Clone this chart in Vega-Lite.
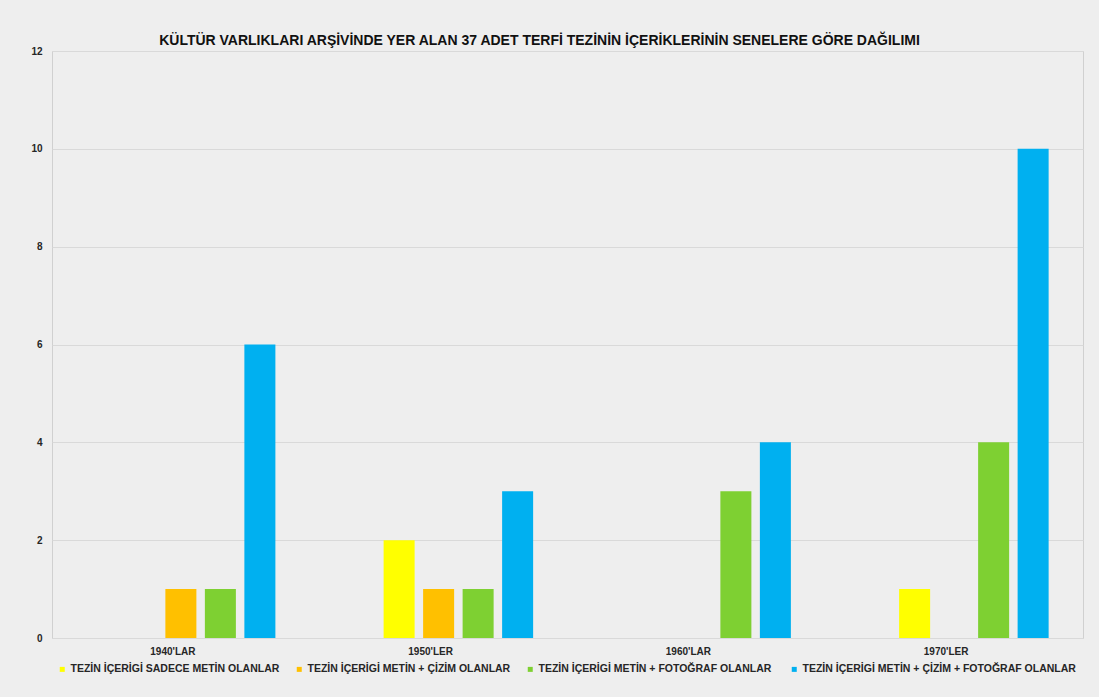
{
  "$schema": "https://vega.github.io/schema/vega-lite/v6.json",
  "autosize": "none",
  "width": 1031,
  "height": 587,
  "padding": {"left": 52, "top": 51, "right": 16, "bottom": 59},
  "background": "#eeeeee",
  "title": {
    "text": "KÜLTÜR VARLIKLARI ARŞİVİNDE YER ALAN 37 ADET TERFİ TEZİNİN İÇERİKLERİNİN SENELERE GÖRE DAĞILIMI",
    "font": "Liberation Sans",
    "fontSize": 14,
    "fontWeight": "bold",
    "color": "#111111",
    "anchor": "middle",
    "baseline": "alphabetic",
    "offset": 4,
    "dy": 17,
    "dx": -28
  },
  "data": {
    "values": [
      {"donem": "1940'LAR", "seri": "TEZİN İÇERİGİ METİN + ÇİZİM OLANLAR", "adet": 1},
      {"donem": "1940'LAR", "seri": "TEZİN İÇERİGİ  METİN + FOTOĞRAF OLANLAR", "adet": 1},
      {"donem": "1940'LAR", "seri": "TEZİN İÇERİGİ  METİN + ÇİZİM + FOTOĞRAF OLANLAR", "adet": 6},
      {"donem": "1950'LER", "seri": "TEZİN İÇERİGİ SADECE METİN OLANLAR", "adet": 2},
      {"donem": "1950'LER", "seri": "TEZİN İÇERİGİ METİN + ÇİZİM OLANLAR", "adet": 1},
      {"donem": "1950'LER", "seri": "TEZİN İÇERİGİ  METİN + FOTOĞRAF OLANLAR", "adet": 1},
      {"donem": "1950'LER", "seri": "TEZİN İÇERİGİ  METİN + ÇİZİM + FOTOĞRAF OLANLAR", "adet": 3},
      {"donem": "1960'LAR", "seri": "TEZİN İÇERİGİ  METİN + FOTOĞRAF OLANLAR", "adet": 3},
      {"donem": "1960'LAR", "seri": "TEZİN İÇERİGİ  METİN + ÇİZİM + FOTOĞRAF OLANLAR", "adet": 4},
      {"donem": "1970'LER", "seri": "TEZİN İÇERİGİ SADECE METİN OLANLAR", "adet": 1},
      {"donem": "1970'LER", "seri": "TEZİN İÇERİGİ  METİN + FOTOĞRAF OLANLAR", "adet": 4},
      {"donem": "1970'LER", "seri": "TEZİN İÇERİGİ  METİN + ÇİZİM + FOTOĞRAF OLANLAR", "adet": 10}
    ]
  },
  "mark": {"type": "bar"},
  "encoding": {
    "x": {
      "field": "donem",
      "type": "nominal",
      "sort": ["1940'LAR", "1950'LER", "1960'LAR", "1970'LER"],
      "scale": {"paddingInner": 0, "paddingOuter": 0},
      "axis": {
        "title": null,
        "labelAngle": 0,
        "labelFont": "Liberation Sans",
        "labelFontSize": 10,
        "labelFontWeight": "bold",
        "labelColor": "#262626",
        "labelOffset": -8,
        "labelPadding": 8,
        "ticks": false,
        "domain": false,
        "grid": false
      }
    },
    "xOffset": {
      "field": "seri",
      "type": "nominal",
      "scale": {
        "domain": ["_bos", "TEZİN İÇERİGİ SADECE METİN OLANLAR", "TEZİN İÇERİGİ METİN + ÇİZİM OLANLAR", "TEZİN İÇERİGİ  METİN + FOTOĞRAF OLANLAR", "TEZİN İÇERİGİ  METİN + ÇİZİM + FOTOĞRAF OLANLAR"],
        "paddingInner": 0.215,
        "paddingOuter": 0.87
      }
    },
    "y": {
      "field": "adet",
      "type": "quantitative",
      "scale": {"domain": [0, 12], "nice": false},
      "axis": {
        "title": null,
        "values": [0, 2, 4, 6, 8, 10, 12],
        "labelFont": "Liberation Sans",
        "labelFontSize": 10,
        "labelFontWeight": "bold",
        "labelColor": "#262626",
        "labelPadding": 10,
        "ticks": false,
        "domain": false,
        "gridColor": "#d9d9d9",
        "gridWidth": 1
      }
    },
    "color": {
      "field": "seri",
      "type": "nominal",
      "scale": {
        "domain": ["TEZİN İÇERİGİ SADECE METİN OLANLAR", "TEZİN İÇERİGİ METİN + ÇİZİM OLANLAR", "TEZİN İÇERİGİ  METİN + FOTOĞRAF OLANLAR", "TEZİN İÇERİGİ  METİN + ÇİZİM + FOTOĞRAF OLANLAR"],
        "range": ["#FFFF00", "#FFC000", "#7ED032", "#00B0F0"]
      },
      "legend": {
        "title": null,
        "orient": "bottom",
        "direction": "horizontal",
        "columns": 4,
        "symbolType": "square",
        "symbolSize": 25,
        "symbolStrokeWidth": 0,
        "labelFont": "Liberation Sans",
        "labelFontSize": 10.5,
        "labelFontWeight": "bold",
        "labelColor": "#262626",
        "labelOffset": 3,
        "labelLimit": 400,
        "columnPadding": 14,
        "offset": 8,
        "padding": 0
      }
    }
  },
  "config": {
    "view": {"fill": "#eeeeee", "stroke": "#d0d0d0", "strokeWidth": 1},
    "legend": {"layout": {"bottom": {"anchor": "middle"}}}
  }
}
